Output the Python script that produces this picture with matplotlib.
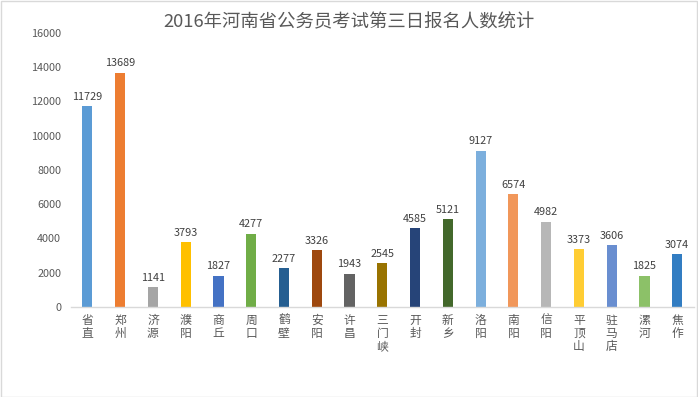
import matplotlib.pyplot as plt
from matplotlib.patches import Rectangle

plt.rcParams['font.family'] = ['Noto Sans CJK SC', 'DejaVu Sans']

title = '2016年河南省公务员考试第三日报名人数统计'
cities = ['省直', '郑州', '济源', '濮阳', '商丘', '周口', '鹤壁', '安阳', '许昌', '三门峡',
          '开封', '新乡', '洛阳', '南阳', '信阳', '平顶山', '驻马店', '漯河', '焦作']
counts = [11729, 13689, 1141, 3793, 1827, 4277, 2277, 3326, 1943, 2545,
          4585, 5121, 9127, 6574, 4982, 3373, 3606, 1825, 3074]
colors = ['#5B9BD5', '#ED7D31', '#A5A5A5', '#FFC000', '#4472C4', '#70AD47', '#255E91',
          '#9E480E', '#636363', '#997300', '#264478', '#43682B', '#7CAFDD', '#F1975A',
          '#B7B7B7', '#FFCD33', '#698ED0', '#8CC168', '#327DC2']
yticks = list(range(0, 16001, 2000))

fig = plt.figure(figsize=(6.98, 3.97), dpi=100)
fig.patches.append(Rectangle((0.001, 0.001), 0.997, 0.996, transform=fig.transFigure,
                             fill=False, edgecolor='#D9D9D9', linewidth=1))
ax = fig.add_axes([0.1017, 0.2267, 0.892, 0.6902])

x = range(len(cities))
bars = ax.bar(x, counts, width=0.31, color=colors)
for xi, v in zip(x, counts):
    ax.text(xi, v + 250, str(v), ha='center', va='bottom', fontsize=7.8, color='#404040')

ax.set_xlim(-0.5, len(cities) - 0.5)
ax.set_ylim(0, 16000)
ax.set_yticks(yticks)
ax.set_yticklabels([str(t) for t in yticks], fontsize=7.8, color='#595959')
ax.set_xticks(list(x))
ax.set_xticklabels(['\n'.join(c) for c in cities], fontsize=8.5, color='#595959',
                   linespacing=1.0, va='top')
ax.tick_params(length=0, pad=7)
ax.tick_params(axis='x', pad=5)
for s in ['top', 'right', 'left']:
    ax.spines[s].set_visible(False)
ax.spines['bottom'].set_color('#D9D9D9')
ax.spines['bottom'].set_linewidth(1)

fig.text(0.5, 0.943, title, ha='center', va='center', fontsize=13.2, color='#595959')

plt.savefig('out.png', dpi=100)
